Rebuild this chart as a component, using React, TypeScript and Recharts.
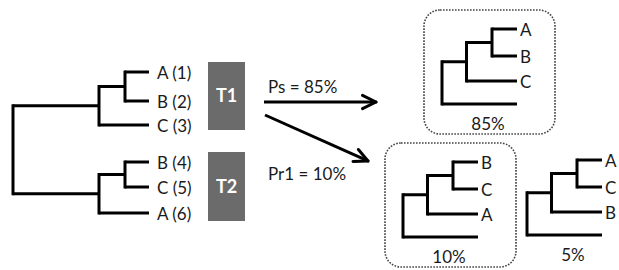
import React from 'react';
import { ComposedChart, XAxis, YAxis, ReferenceLine, ReferenceArea, Scatter } from 'recharts';

// ---------------- data ----------------
type Tree = string | Tree[];
const inputTreeTopology: Tree = [[['A (1)', 'B (2)'], 'C (3)'], [['B (4)', 'C (5)'], 'A (6)']];
const geneTreeNames = ['T1', 'T2'];
const replicateLeafOrders = [
  ['A', 'B', 'C'],
  ['B', 'C', 'A'],
  ['A', 'C', 'B'],
];
const replicatePercents = [85, 10, 5];
const replicateBoxed = [true, true, false];
const arrowLabels = ['Ps = 85%', 'Pr1 = 10%'];

// ---------------- layout (positions / sizes, separate from data) ----------------
const W = 619;
const H = 270;
const FONT = 'Lato, "Open Sans", sans-serif';
const BIG = { cols: [13, 99, 125], leafX: 149, leafYs: [72, 101, 125, 162, 187, 213], labelDx: 8, ox: 0, oy: 0 };
const SMALL = { cols: [0, 24.5, 50], leafX: 75, leafYs: [0, 27, 52, 75], labelDx: 3 };
const REPLICATE_ORIGINS = [
  [442, 29],
  [403, 162],
  [527, 160],
];
const PCT_OFFSET = [46, 94];
const DASH_BOX = { left: -18, right: 113, top: -19, bottom: 105 };
const GENE_BOXES = [
  [208, 245, 62, 130],
  [208, 245, 152, 221],
];
const ARROWS = [
  { from: [264, 102], to: [376, 102], labelAt: [268, 86] },
  { from: [265, 115], to: [368, 161], labelAt: [268, 173] },
];

type Edge = { x1: number; y1: number; x2: number; y2: number; v: boolean };
type Pt = { x: number; y: number; text: string; anchor: string };

function layoutTree(tree: Tree, cols: number[], leafX: number, leafYs: number[], ox: number, oy: number, labelDx: number) {
  const edges: Edge[] = [];
  const leaves: Pt[] = [];
  let i = 0;
  const rec = (node: Tree, depth: number): { x: number; y: number } => {
    if (typeof node === 'string') {
      const y = oy + leafYs[i++];
      if (node) leaves.push({ x: ox + leafX + labelDx, y, text: node, anchor: 'start' });
      return { x: ox + leafX, y };
    }
    const kids = node.map((c) => rec(c, depth + 1));
    const x = ox + cols[depth];
    const y = (kids[0].y + kids[kids.length - 1].y) / 2;
    edges.push({ x1: x, y1: kids[0].y, x2: x, y2: kids[kids.length - 1].y, v: true });
    kids.forEach((k) => edges.push({ x1: x, y1: k.y, x2: k.x, y2: k.y, v: false }));
    return { x, y };
  };
  rec(tree, 0);
  return { edges, leaves };
}

const big = layoutTree(inputTreeTopology, BIG.cols, BIG.leafX, BIG.leafYs, BIG.ox, BIG.oy, BIG.labelDx);
const smalls = replicateLeafOrders.map((order, k) => {
  const topo: Tree = [[[order[0], order[1]], order[2]], ''];
  const [ox, oy] = REPLICATE_ORIGINS[k];
  return layoutTree(topo, SMALL.cols, SMALL.leafX, SMALL.leafYs, ox, oy, SMALL.labelDx);
});

const allEdges: Edge[] = [...big.edges, ...smalls.flatMap((s) => s.edges)];
const leafLabels: Pt[] = [...big.leaves, ...smalls.flatMap((s) => s.leaves)];
const pctLabels: Pt[] = replicatePercents.map((p, k) => ({
  x: REPLICATE_ORIGINS[k][0] + PCT_OFFSET[0],
  y: REPLICATE_ORIGINS[k][1] + PCT_OFFSET[1],
  text: `${p}%`,
  anchor: 'middle',
}));
const arrowTexts: Pt[] = arrowLabels.map((t, k) => ({ x: ARROWS[k].labelAt[0], y: ARROWS[k].labelAt[1], text: t, anchor: 'start' }));

const arrowSegments: Edge[] = ARROWS.flatMap((a) => {
  const [x1, y1] = a.from;
  const [x2, y2] = a.to;
  const ang = Math.atan2(y2 - y1, x2 - x1);
  const len = 15;
  const spread = (26 * Math.PI) / 180;
  const h1 = { x: x2 - len * Math.cos(ang - spread), y: y2 - len * Math.sin(ang - spread) };
  const h2 = { x: x2 - len * Math.cos(ang + spread), y: y2 - len * Math.sin(ang + spread) };
  return [
    { x1, y1, x2: x2 - 2 * Math.cos(ang), y2: y2 - 2 * Math.sin(ang), v: false },
    { x1: h1.x, y1: h1.y, x2, y2, v: true },
    { x1: h2.x, y1: h2.y, x2, y2, v: true },
  ];
});

const TextShape = (props: any) => {
  const { cx, cy, payload } = props;
  if (cx == null || cy == null) return null;
  return (
    <text x={cx} y={cy} textAnchor={payload.anchor} dominantBaseline="central" fontFamily={FONT} fontSize={17} fill="#1a1a1a">
      {payload.text}
    </text>
  );
};

const DashedRounded = (props: any) => {
  const { x, y, width, height } = props;
  return (
    <rect x={x} y={y} width={width} height={height} rx={16} ry={16} fill="none" stroke="#444" strokeWidth={1.6} strokeDasharray="1.6 1.4" />
  );
};

export default function App() {
  return (
    <div style={{ position: 'absolute', left: 0, top: 0, width: W, height: H, background: '#fff' }}>
      <ComposedChart width={W} height={H} margin={{ top: 0, right: 0, bottom: 0, left: 0 }}>
        <XAxis type="number" dataKey="x" domain={[0, W]} hide allowDataOverflow />
        <YAxis type="number" dataKey="y" domain={[0, H]} reversed hide allowDataOverflow />

        {replicateBoxed.map((b, k) =>
          b ? (
            <ReferenceArea
              key={`db${k}`}
              x1={REPLICATE_ORIGINS[k][0] + DASH_BOX.left}
              x2={REPLICATE_ORIGINS[k][0] + DASH_BOX.right}
              y1={REPLICATE_ORIGINS[k][1] + DASH_BOX.top}
              y2={REPLICATE_ORIGINS[k][1] + DASH_BOX.bottom}
              ifOverflow="visible"
              shape={DashedRounded}
            />
          ) : null
        )}

        {geneTreeNames.map((name, k) => (
          <ReferenceArea
            key={name}
            x1={GENE_BOXES[k][0]}
            x2={GENE_BOXES[k][1]}
            y1={GENE_BOXES[k][2]}
            y2={GENE_BOXES[k][3]}
            fill="#6b6b6b"
            fillOpacity={1}
            stroke="none"
            ifOverflow="visible"
            label={{ value: name, position: 'center', fill: '#ffffff', fontSize: 18, fontWeight: 'bold', fontFamily: FONT }}
          />
        ))}

        {allEdges.map((e, k) => (
          <ReferenceLine
            key={`e${k}`}
            segment={[
              { x: e.x1, y: e.y1 },
              { x: e.x2, y: e.y2 },
            ]}
            stroke="#000"
            strokeWidth={3}
            strokeLinecap={e.v ? 'square' : 'butt'}
            ifOverflow="visible"
          />
        ))}

        {arrowSegments.map((e, k) => (
          <ReferenceLine
            key={`a${k}`}
            segment={[
              { x: e.x1, y: e.y1 },
              { x: e.x2, y: e.y2 },
            ]}
            stroke="#000"
            strokeWidth={3}
            strokeLinecap={e.v ? 'round' : 'butt'}
            ifOverflow="visible"
          />
        ))}

        <Scatter data={leafLabels} shape={TextShape} isAnimationActive={false} />
        <Scatter data={pctLabels} shape={TextShape} isAnimationActive={false} />
        <Scatter data={arrowTexts} shape={TextShape} isAnimationActive={false} />
      </ComposedChart>
    </div>
  );
}
